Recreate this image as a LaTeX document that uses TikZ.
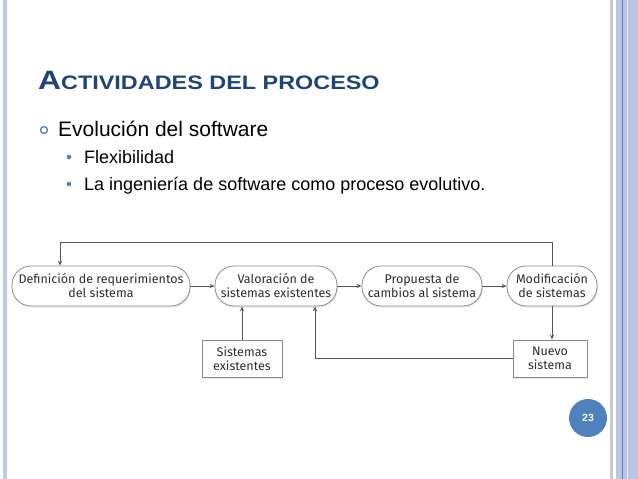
\documentclass[tikz,border=0pt]{standalone}
\usepackage{fontspec}
\setmainfont{Liberation Sans}
\newfontfamily\diagfont{Fira Sans}
\usetikzlibrary{arrows.meta,shadows}
\definecolor{titleblue}{HTML}{1F4478}
\definecolor{bulletblue}{HTML}{4F81BD}
\definecolor{frameblue}{HTML}{BAC6E2}
\definecolor{framegray}{HTML}{C3CCDF}
\definecolor{frameline}{HTML}{5C7DB8}
\definecolor{boxline}{HTML}{8A8A8A}
\definecolor{boxtext}{HTML}{2E2E2E}
\definecolor{flowline}{HTML}{555555}

\tikzset{
  pill/.style={draw=boxline, line width=0.8pt, fill=white, rounded corners=19pt,
    minimum height=40pt, align=center, text=boxtext, font=\diagfont\fontsize{12.5}{14}\selectfont,
    drop shadow={opacity=0.18, shadow xshift=1pt, shadow yshift=-1.5pt}},
  plainbox/.style={draw=boxline, line width=0.8pt, fill=white,
    minimum height=37pt, align=center, text=boxtext, font=\diagfont\fontsize{12.5}{14}\selectfont,
    drop shadow={opacity=0.18, shadow xshift=1pt, shadow yshift=-1.5pt}},
  flow/.style={draw=flowline, line width=0.8pt, -{Stealth[length=5pt,width=4pt]}}
}

\begin{document}
\begin{tikzpicture}[x=1pt, y=-1pt]

    % Slide frame
    \useasboundingbox[fill=white] (0,0) rectangle (638,479);
    \fill[framegray] (3,0) rectangle (7,479);
    \fill[framegray] (610,0) rectangle (613,479);
    \fill[frameblue] (616,0) rectangle (638,479);
    \draw[frameline, line width=1pt] (622,0) -- (622,479);
    \draw[white!70!frameblue, line width=0.8pt] (627,0) -- (627,479);

    % Title
    \node[anchor=base west, inner sep=0pt, text=titleblue, font=\bfseries] (title) at (38,89)
      {\scalebox{1.2}[1]{\fontsize{26.5}{28}\selectfont A\fontsize{19.5}{22}\selectfont CTIVIDADES DEL PROCESO}};

    % Bullets
    \draw[bulletblue, line width=1.3pt] (44,130) circle (3.5);
    \node[anchor=base west, inner sep=0pt, font=\fontsize{21}{24}\selectfont] (evol) at (58,136) {Evolución del software};
    \foreach \y/\txt/\nm in {163/Flexibilidad/flex, 190/La ingeniería de software como proceso evolutivo./inge} {
        \fill[bulletblue] (69,\y-6) circle (2.3);
        \node[anchor=base west, inner sep=0pt, font=\fontsize{18}{20}\selectfont] (\nm) at (84,\y) {\txt};
    }

    % Process boxes
    \node[pill, minimum width=178pt] (def) at (101,286) {Definición de requerimientos\\del sistema};
    \node[pill, minimum width=122pt] (val) at (276,286) {Valoración de\\sistemas existentes};
    \node[pill, minimum width=120pt] (prop) at (422,286) {Propuesta de\\cambios al sistema};
    \node[pill, minimum width=90pt] (mod) at (552,286) {Modificación\\de sistemas};
    \node[plainbox, minimum width=80pt] (sisex) at (242,358.5) {Sistemas\\existentes};
    \node[plainbox, minimum width=74pt] (nuevo) at (550,358.5) {Nuevo\\sistema};

    % Connectors
    \draw[flow] (def) -- (val);
    \draw[flow] (val) -- (prop);
    \draw[flow] (prop) -- (mod);
    \draw[flow] (mod.south) -- (mod.south |- nuevo.north);
    \draw[flow] (sisex.north) -- (sisex.north |- val.south);
    \draw[flow] (nuevo.west) -| ([xshift=39pt]val.south);
    \draw[flow] (mod.north) -- ++(0,-23) -| ([xshift=-41pt]def.north);

    % Page number
    \node[circle, fill=bulletblue, minimum size=38pt, inner sep=0pt, text=white,
      font=\bfseries\fontsize{10.5}{12}\selectfont] (page) at (588,418) {23};

\end{tikzpicture}
\end{document}
